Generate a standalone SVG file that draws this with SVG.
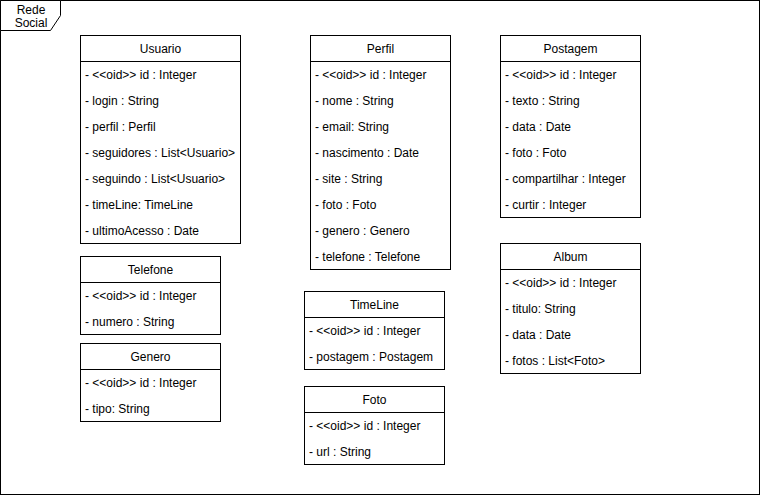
<svg xmlns="http://www.w3.org/2000/svg" width="761" height="496" viewBox="0 0 761 496">
<style>
.box{fill:#fff;stroke:#000;stroke-width:1}
.ln{stroke:#000;stroke-width:1;fill:none}
text{font-family:"Liberation Sans",Arial,sans-serif;font-size:12px;fill:#000}
.t{text-anchor:middle}
.f{text-anchor:middle}
</style>
<rect x="0" y="0" width="761" height="496" fill="#fff"/>
<g id="frame">
<rect class="box" x="0.5" y="0.5" width="759" height="494"/>
<path class="box" d="M0.5,0.5 H60.5 V15.5 L50.5,30.5 H0.5 Z"/>
<text class="f" x="31" y="14">Rede</text>
<text class="f" x="31" y="27">Social</text>
</g>
<g id="Usuario">
<rect class="box" x="80.5" y="35.5" width="160" height="208"/>
<line class="ln" x1="80.5" y1="61.5" x2="240.5" y2="61.5"/>
<text class="t" x="160.5" y="53">Usuario</text>
<text x="85" y="79">- &lt;&lt;oid&gt;&gt; id : Integer</text>
<text x="85" y="105">- login : String</text>
<text x="85" y="131">- perfil : Perfil</text>
<text x="85" y="157">- seguidores : List&lt;Usuario&gt;</text>
<text x="85" y="183">- seguindo : List&lt;Usuario&gt;</text>
<text x="85" y="209">- timeLine: TimeLine</text>
<text x="85" y="235">- ultimoAcesso : Date</text>
</g>
<g id="Perfil">
<rect class="box" x="310.5" y="35.5" width="140" height="234"/>
<line class="ln" x1="310.5" y1="61.5" x2="450.5" y2="61.5"/>
<text class="t" x="380.5" y="53">Perfil</text>
<text x="315" y="79">- &lt;&lt;oid&gt;&gt; id : Integer</text>
<text x="315" y="105">- nome : String</text>
<text x="315" y="131">- email: String</text>
<text x="315" y="157">- nascimento : Date</text>
<text x="315" y="183">- site : String</text>
<text x="315" y="209">- foto : Foto</text>
<text x="315" y="235">- genero : Genero</text>
<text x="315" y="261">- telefone : Telefone</text>
</g>
<g id="Postagem">
<rect class="box" x="500.5" y="35.5" width="140" height="182"/>
<line class="ln" x1="500.5" y1="61.5" x2="640.5" y2="61.5"/>
<text class="t" x="570.5" y="53">Postagem</text>
<text x="505" y="79">- &lt;&lt;oid&gt;&gt; id : Integer</text>
<text x="505" y="105">- texto : String</text>
<text x="505" y="131">- data : Date</text>
<text x="505" y="157">- foto : Foto</text>
<text x="505" y="183">- compartilhar : Integer</text>
<text x="505" y="209">- curtir : Integer</text>
</g>
<g id="Album">
<rect class="box" x="500.5" y="243.5" width="140" height="130"/>
<line class="ln" x1="500.5" y1="269.5" x2="640.5" y2="269.5"/>
<text class="t" x="570.5" y="261">Album</text>
<text x="505" y="287">- &lt;&lt;oid&gt;&gt; id : Integer</text>
<text x="505" y="313">- titulo: String</text>
<text x="505" y="339">- data : Date</text>
<text x="505" y="365">- fotos : List&lt;Foto&gt;</text>
</g>
<g id="Telefone">
<rect class="box" x="80.5" y="256.5" width="140" height="78"/>
<line class="ln" x1="80.5" y1="282.5" x2="220.5" y2="282.5"/>
<text class="t" x="150.5" y="274">Telefone</text>
<text x="85" y="300">- &lt;&lt;oid&gt;&gt; id : Integer</text>
<text x="85" y="326">- numero : String</text>
</g>
<g id="Genero">
<rect class="box" x="80.5" y="343.5" width="140" height="78"/>
<line class="ln" x1="80.5" y1="369.5" x2="220.5" y2="369.5"/>
<text class="t" x="150.5" y="361">Genero</text>
<text x="85" y="387">- &lt;&lt;oid&gt;&gt; id : Integer</text>
<text x="85" y="413">- tipo: String</text>
</g>
<g id="TimeLine">
<rect class="box" x="304.5" y="291.5" width="140" height="78"/>
<line class="ln" x1="304.5" y1="317.5" x2="444.5" y2="317.5"/>
<text class="t" x="374.5" y="309">TimeLine</text>
<text x="309" y="335">- &lt;&lt;oid&gt;&gt; id : Integer</text>
<text x="309" y="361">- postagem : Postagem</text>
</g>
<g id="Foto">
<rect class="box" x="304.5" y="386.5" width="140" height="78"/>
<line class="ln" x1="304.5" y1="412.5" x2="444.5" y2="412.5"/>
<text class="t" x="374.5" y="404">Foto</text>
<text x="309" y="430">- &lt;&lt;oid&gt;&gt; id : Integer</text>
<text x="309" y="456">- url : String</text>
</g>
<g id="connectors"></g>
</svg>
